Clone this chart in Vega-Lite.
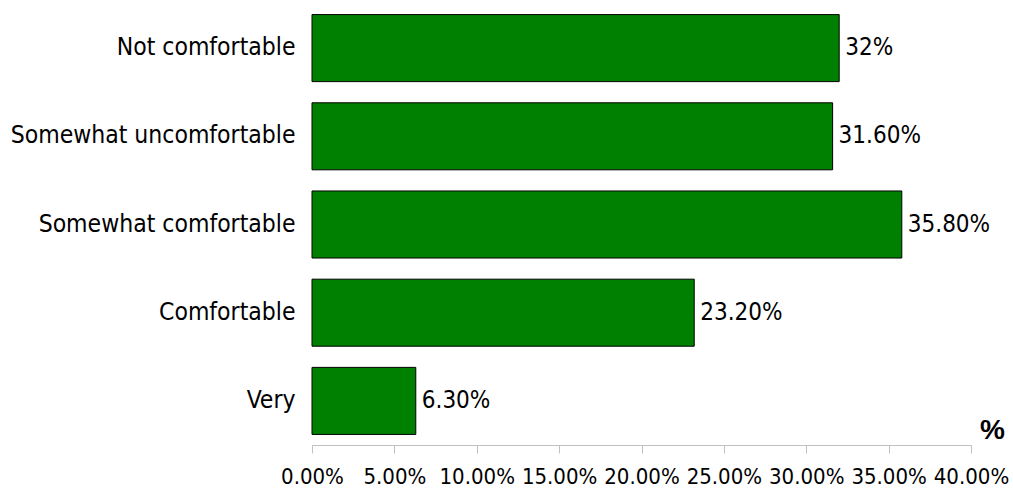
{
  "$schema": "https://vega.github.io/schema/vega-lite/v6.json",
  "autosize": "none",
  "width": 659,
  "height": 441,
  "padding": {"left": 312, "top": 4, "right": 42, "bottom": 43},
  "background": "white",
  "config": {"view": {"stroke": null}, "font": "Liberation Sans"},
  "data": {"values": [
    {"category": "Not comfortable", "value": 0.32, "label": "32%"},
    {"category": "Somewhat uncomfortable", "value": 0.316, "label": "31.60%"},
    {"category": "Somewhat comfortable", "value": 0.358, "label": "35.80%"},
    {"category": "Comfortable", "value": 0.232, "label": "23.20%"},
    {"category": "Very", "value": 0.063, "label": "6.30%"}
  ]},
  "encoding": {
    "y": {"field": "category", "type": "nominal", "sort": null,
      "scale": {"paddingInner": 0.24, "paddingOuter": 0.12},
      "axis": {"title": null, "domain": false, "ticks": false, "labelFontSize": 24.5, "labelColor": "black", "labelPadding": 17, "labelFont": "DejaVu Sans Condensed, Liberation Sans", "labelLimit": 400}},
    "x": {"field": "value", "type": "quantitative",
      "scale": {"domain": [0, 0.4], "nice": false},
      "axis": {"title": "%", "format": ".2%", "values": [0, 0.05, 0.1, 0.15, 0.2, 0.25, 0.3, 0.35, 0.4], "grid": false,
        "domainColor": "#c0c0c0", "tickColor": "#c0c0c0", "tickSize": 8, "labelFontSize": 22, "labelColor": "black", "labelPadding": 13, "labelOverlap": false, "labelFlush": false, "labelFont": "DejaVu Sans Condensed, Liberation Sans",
        "titleFont": "Liberation Sans", "titleFontSize": 28, "titleFontWeight": "bold", "titleColor": "black", "titleX": 680, "titleY": -15, "titleAlign": "center", "titleBaseline": "middle"}}
  },
  "layer": [
    {"mark": {"type": "bar", "color": "#008000", "stroke": "black", "strokeWidth": 1}},
    {"mark": {"type": "text", "align": "left", "baseline": "middle", "dx": 6, "fontSize": 24, "color": "black", "font": "DejaVu Sans Condensed, Liberation Sans"},
     "encoding": {"text": {"field": "label"}}}
  ]
}
